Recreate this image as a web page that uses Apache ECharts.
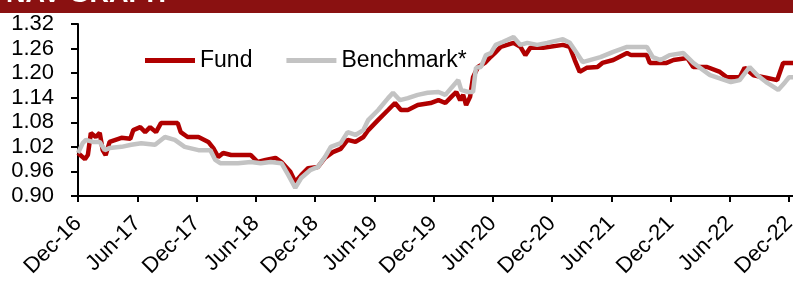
<!DOCTYPE html>
<html>
<head>
<meta charset="utf-8">
<script src="https://cdn.jsdelivr.net/npm/echarts@6/dist/echarts.min.js"></script>
<style>
html, body { margin: 0; padding: 0; background: #fff; }
#nav { width: 793px; height: 288px; }
</style>
</head>
<body>
<div id="nav"></div>
<script>
/*---------------------- NAV graph -----------------------*/

// x positions are months after Dec-16
var tickLabels = ['Dec-16','Jun-17','Dec-17','Jun-18','Dec-18','Jun-19','Dec-19',
                  'Jun-20','Dec-20','Jun-21','Dec-21','Jun-22','Dec-22'];

var fundMonths = [0,0.2,0.7,1.0,1.3,1.8,2.2,2.5,2.8,3.2,4.4,5.3,5.6,6.3,6.8,7.3,7.9,8.4,9.4,10.1,
  10.4,11.1,12.2,13.2,13.7,14.2,14.7,15.5,16.5,17.5,18.2,19.0,20.0,20.6,21.5,22.0,22.6,23.3,24.3,25.0,
  25.8,26.6,27.3,28.1,28.9,29.4,30.4,31.4,32.1,32.7,33.4,34.4,35.7,36.5,37.2,37.8,38.3,38.7,39.0,39.3,
  39.7,40.0,40.5,41.2,41.8,42.2,42.8,44.1,44.8,45.3,45.8,47.1,49.1,49.8,50.3,50.8,51.5,52.6,53.1,54.2,
  55.6,56.0,57.6,57.9,59.6,60.3,61.7,62.3,63.7,65.0,65.7,67.0,67.5,68.4,69.8,70.8,71.4,72.4];
var fundValues = [1.005,1.005,0.99,1.00,1.054,1.044,1.054,1.012,1.00,1.032,1.042,1.04,1.061,1.068,1.056,1.068,1.056,1.078,1.078,1.078,
  1.056,1.044,1.044,1.032,1.017,0.995,1.005,1.00,1.00,1.00,0.983,0.988,0.993,0.983,0.959,0.934,0.951,0.968,0.971,0.993,
  1.007,1.015,1.037,1.032,1.044,1.061,1.086,1.11,1.127,1.11,1.11,1.122,1.127,1.134,1.127,1.142,1.154,1.134,1.147,1.122,
  1.142,1.19,1.215,1.225,1.240,1.249,1.264,1.274,1.264,1.244,1.262,1.262,1.269,1.264,1.232,1.203,1.213,1.215,1.225,1.232,
  1.249,1.244,1.244,1.225,1.225,1.232,1.237,1.215,1.215,1.203,1.19,1.19,1.213,1.195,1.188,1.183,1.225,1.225];

var benchMonths = [0,0.5,0.8,1.5,2.2,2.7,3.2,4.4,5.4,6.4,7.8,8.8,9.8,10.8,12.2,13.4,13.9,14.4,16.2,17.5,
  18.5,19.5,20.6,21.3,22.0,22.6,23.5,24.3,25.0,25.6,26.6,27.3,28.1,28.9,29.4,30.4,31.4,31.9,32.6,33.4,
  34.4,35.4,36.5,37.2,37.8,38.5,38.8,39.5,40.0,40.3,40.8,41.3,41.8,42.3,43.0,44.1,44.8,45.5,46.5,47.5,
  49.1,49.8,50.5,51.1,52.9,54.2,55.6,57.6,58.2,59.0,59.9,61.3,62.3,64.0,66.1,67.0,68.0,68.8,69.8,70.9,
  71.6,72.0,72.4];
var benchValues = [1.005,1.03,1.037,1.032,1.032,1.012,1.017,1.02,1.025,1.029,1.025,1.044,1.037,1.02,1.012,1.012,0.988,0.98,0.98,0.983,
  0.98,0.983,0.98,0.951,0.92,0.944,0.963,0.971,0.995,1.02,1.029,1.056,1.049,1.061,1.086,1.11,1.139,1.152,1.134,1.139,
  1.147,1.152,1.154,1.147,1.164,1.183,1.159,1.154,1.154,1.213,1.215,1.244,1.249,1.269,1.276,1.288,1.269,1.274,1.269,1.274,
  1.283,1.274,1.249,1.227,1.239,1.252,1.264,1.264,1.239,1.232,1.244,1.249,1.225,1.195,1.178,1.183,1.215,1.195,1.176,1.159,
  1.178,1.19,1.19];

function pairs(xs, ys) {
  var out = [];
  for (var i = 0; i < xs.length; i++) out.push([xs[i], ys[i]]);
  return out;
}

var font = 'Liberation Sans, Arial, sans-serif';
var tickMonths = [0,6,12,18,24,30,36,42,48,54,60,66,72];

var opt = {
  animation: false,
  backgroundColor: '#fff',
  graphic: [
    { type: 'rect', left: 0, top: 0, shape: { width: 793, height: 13 }, style: { fill: '#8A1111' } },
    { type: 'text', left: 6, top: -19, style: { text: 'NAV GRAPH', fill: '#fff', font: 'bold 27px ' + font } }
  ],
  grid: { left: 78, right: 0, top: 24, bottom: 92, containLabel: false, outerBoundsMode: 'none' },
  legend: {
    left: 145, top: 49, padding: 0,
    icon: 'rect', itemWidth: 50, itemHeight: 5, itemGap: 34,
    textStyle: { fontSize: 23, color: '#000', fontFamily: font },
    data: ['Fund', 'Benchmark*']
  },
  xAxis: {
    type: 'value', min: 0, max: 72.4, interval: 6,
    axisLine: { lineStyle: { color: '#000', width: 2 } },
    axisTick: { show: true, length: 6, lineStyle: { color: '#000', width: 2 }, customValues: tickMonths },
    axisLabel: {
      rotate: 45, margin: 24, fontSize: 22, color: '#000', fontFamily: font,
      customValues: tickMonths,
      formatter: function (v) {
        var i = Math.round(v / 6);
        return (Math.abs(v - i * 6) < 0.01) ? tickLabels[i] : '';
      }
    },
    splitLine: { show: false }
  },
  yAxis: {
    type: 'value', min: 0.90, max: 1.32, interval: 0.06,
    axisLine: { show: true, lineStyle: { color: '#000', width: 2 } },
    axisTick: { show: true, length: 7, lineStyle: { color: '#000', width: 2 } },
    axisLabel: { margin: 24, fontSize: 22, color: '#000', fontFamily: font,
                 formatter: function (v) { return v.toFixed(2); } },
    splitLine: { show: false }
  },
  series: [
    { name: 'Fund', type: 'line', showSymbol: false, color: '#B00000',
      lineStyle: { width: 4.5, color: '#B00000' }, data: pairs(fundMonths, fundValues) },
    { name: 'Benchmark*', type: 'line', showSymbol: false, color: '#C3C3C3',
      lineStyle: { width: 4.5, color: '#C3C3C3' }, data: pairs(benchMonths, benchValues) }
  ]
};

var nav = echarts.init(document.getElementById('nav'));
nav.setOption(opt);
</script>
</body>
</html>
